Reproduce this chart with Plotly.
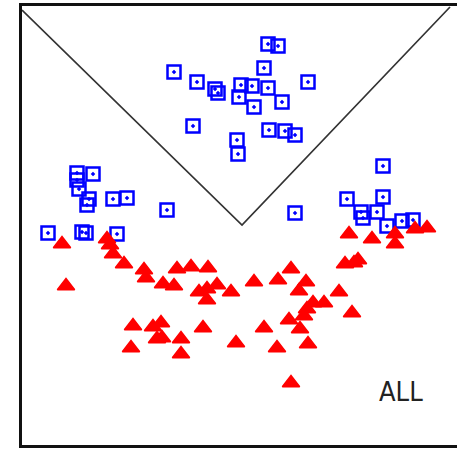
import plotly.graph_objects as go

# Group A: open squares (upper "V" region and the two flanking clusters)
sq_x = [268, 278, 174, 197, 215, 218, 264, 308, 241, 252, 239, 268, 254, 282,
        193, 269, 285, 295, 237, 238, 295, 383, 347, 383, 361, 363, 377, 387,
        402, 413, 77, 77, 93, 79, 89, 87, 113, 127, 167, 48, 82, 86, 117]
sq_y = [44, 46, 72, 82, 89, 93, 68, 82, 85, 86, 97, 88, 107, 102,
        126, 130, 131, 135, 140, 154, 213, 166, 199, 197, 212, 218, 212, 226,
        221, 220, 173, 180, 174, 189, 199, 205, 199, 198, 210, 233, 232, 233, 234]

# Group B: filled triangles (lower region)
tri_x = [62, 66, 107, 110, 113, 124, 144, 146, 163, 177, 174, 191, 208, 199,
         207, 207, 217, 231, 254, 278, 291, 306, 299, 339, 324, 313, 307, 304,
         289, 300, 352, 264, 236, 277, 308, 291, 133, 153, 161, 157, 162, 131,
         181, 181, 203, 349, 372, 395, 395, 415, 427, 345, 354, 358]
tri_y = [242, 284, 237, 243, 252, 262, 268, 276, 282, 267, 284, 265, 266, 290,
         287, 298, 283, 290, 280, 278, 267, 280, 289, 290, 301, 301, 307, 314,
         318, 327, 311, 326, 341, 346, 342, 381, 324, 325, 321, 337, 336, 346,
         337, 352, 326, 232, 237, 232, 242, 227, 226, 262, 261, 258]

# Decision boundary (V shape)
v_x = [22, 242, 450]
v_y = [10, 225, 7]

label_text = "ALL"
label_x, label_y = 401, 391

fig = go.Figure()

fig.add_trace(go.Scatter(
    x=v_x, y=v_y, mode="lines",
    line=dict(color="#333333", width=1.7),
    hoverinfo="skip", showlegend=False))

fig.add_trace(go.Scatter(
    x=sq_x, y=sq_y, mode="markers",
    marker=dict(symbol="square-open-dot", size=13, color="#0000ff",
                line=dict(color="#0000ff", width=2.5)),
    showlegend=False))

# triangle markers sit on their centroid, so nudge down to centre the glyph box
fig.add_trace(go.Scatter(
    x=tri_x, y=[y + 2 for y in tri_y], mode="markers",
    marker=dict(symbol="triangle-up", size=15, color="#ff0000",
                line=dict(color="#ff0000", width=1.5)),
    showlegend=False))

fig.add_annotation(x=label_x, y=label_y, text=label_text, showarrow=False,
                   font=dict(family="Liberation Sans Narrow, DejaVu Sans Condensed, Arial",
                             size=27, color="#222222"))

fig.update_xaxes(range=[22, 457], showgrid=False, zeroline=False,
                 showticklabels=False, ticks="", showline=True,
                 linecolor="#111111", linewidth=3, mirror=True)
fig.update_yaxes(range=[445, 6], showgrid=False, zeroline=False,
                 showticklabels=False, ticks="", showline=True,
                 linecolor="#111111", linewidth=3, mirror=False)

fig.update_layout(width=457, height=449,
                  margin=dict(l=22, r=0, t=6, b=4),
                  paper_bgcolor="white", plot_bgcolor="white")

fig.write_html("out.html")
